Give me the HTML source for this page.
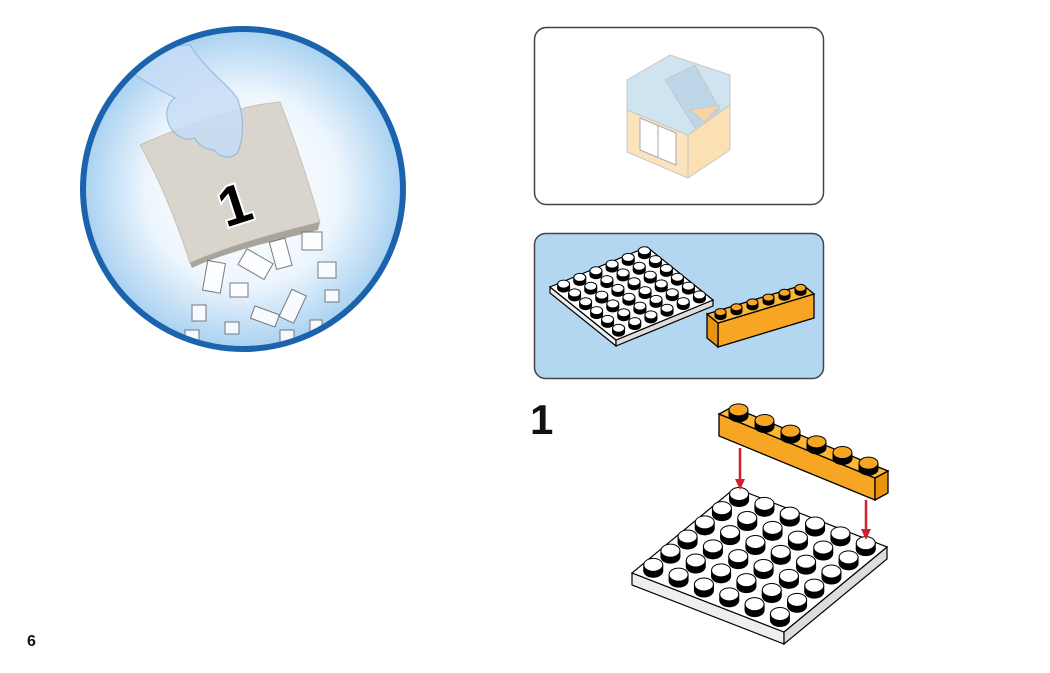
<!DOCTYPE html>
<html><head><meta charset="utf-8"><style>
html,body{margin:0;padding:0;background:#fff;width:1050px;height:673px;overflow:hidden}
svg{display:block}
</style></head><body>
<svg id="s" width="1050" height="673" viewBox="0 0 1050 673" xmlns="http://www.w3.org/2000/svg" font-family="Liberation Sans, sans-serif">
<defs>
<radialGradient id="rg" cx="0.5" cy="0.5" r="0.5">
<stop offset="0" stop-color="#ffffff"/><stop offset="0.6" stop-color="#eef6fd"/><stop offset="1" stop-color="#a9d1f1"/>
</radialGradient>
<clipPath id="cc"><circle cx="243" cy="189" r="157"/></clipPath>
</defs>
<circle cx="243" cy="189" r="160" fill="url(#rg)" stroke="#1b63ad" stroke-width="6"/>
<g clip-path="url(#cc)">
<path d="M140,145 C185,125 240,105 280,102 C295,140 308,180 320,222 C280,232 230,245 190,263 C178,225 160,180 140,145 Z" fill="#d9d5cd" stroke="#c6c1b8" stroke-width="1"/>
<path d="M190,263 C230,245 280,232 320,222 L318,230 C280,240 230,250 192,268 Z" fill="#a9a49b"/>
<path d="M128,70 C150,50 175,45 190,45 C205,70 230,85 238,100 C245,120 243,140 238,152 C232,160 220,158 214,150 C206,150 198,145 195,138 C185,142 172,135 168,122 C165,112 168,102 175,98 C160,90 145,82 128,70 Z" fill="#c7ddf6" stroke="#8eb5e2" stroke-width="1.2" opacity="0.85"/>
<text x="218" y="222" font-size="56" font-weight="bold" fill="#000" stroke="#fff" stroke-width="4" paint-order="stroke" transform="rotate(-18 240 200)">1</text>
<g fill="#fff" stroke="#666" stroke-width="1" opacity="0.85">
<rect x="205" y="262" width="18" height="30" transform="rotate(10 215 277)"/>
<rect x="240" y="255" width="30" height="18" transform="rotate(30 255 265)"/>
<rect x="273" y="240" width="16" height="28" transform="rotate(-15 280 255)"/>
<rect x="302" y="232" width="20" height="18"/>
<rect x="230" y="283" width="18" height="14"/>
<rect x="285" y="290" width="16" height="30" transform="rotate(25 290 305)"/>
<rect x="250" y="310" width="26" height="13" transform="rotate(20 264 322)"/>
<rect x="192" y="305" width="14" height="16"/>
<rect x="318" y="262" width="18" height="16"/>
<rect x="225" y="322" width="14" height="12"/>
<rect x="325" y="290" width="14" height="12"/>
<rect x="185" y="330" width="14" height="14"/>
<rect x="280" y="330" width="14" height="12"/>
<rect x="310" y="320" width="12" height="12"/>
</g>
</g>
<rect x="534.5" y="27.5" width="289" height="177" rx="12" fill="#fff" stroke="#444" stroke-width="1.5"/>
<g stroke="#c8c8c8" stroke-width="1">
<polygon points="627,110 688,135 688,178 627,152" fill="#fbe3bd"/>
<polygon points="688,135 730,105 730,150 688,178" fill="#fbe0b4"/>
<polygon points="627,110 688,135 730,105 730,75 670,55 627,80" fill="#cfe3f0"/>
<polygon points="665,80 695,65 720,110 695,128" fill="#bcd6e8"/>
<polygon points="690,110 720,105 705,122" fill="#f6d6a0"/>
<polygon points="640,118 676,133 676,165 640,150" fill="#fff" stroke="#aaa"/>
<line x1="658" y1="125" x2="658" y2="157" stroke="#aaa"/>
</g>
<rect x="534.5" y="233.5" width="289" height="145" rx="11" fill="#b3d6f1" stroke="#444" stroke-width="1.5"/>
<g id="g1"></g>
<text x="530" y="434" font-size="42" font-weight="bold" fill="#111">1</text>
<g id="g2"></g>
<text x="27" y="646" font-size="16" font-weight="bold" fill="#111">6</text>
</svg>
<script>
var NS="http://www.w3.org/2000/svg";
function el(p,t,a){var e=document.createElementNS(NS,t);for(var k in a)e.setAttribute(k,a[k]);p.appendChild(e);return e;}
function pts(a){return a.map(function(p){return p[0]+","+p[1]}).join(" ")}
function plate(g,T,L,R,th,rx,ry,h){
 var B=[L[0]+R[0]-T[0],L[1]+R[1]-T[1]];
 el(g,"polygon",{points:pts([L,B,[B[0],B[1]+th],[L[0],L[1]+th]]),fill:"#eee",stroke:"#000","stroke-width":1.2});
 el(g,"polygon",{points:pts([B,R,[R[0],R[1]+th],[B[0],B[1]+th]]),fill:"#ddd",stroke:"#000","stroke-width":1.2});
 el(g,"polygon",{points:pts([T,R,B,L]),fill:"#fff",stroke:"#000","stroke-width":1.2});
 var u=[(R[0]-T[0])/6,(R[1]-T[1])/6],v=[(L[0]-T[0])/6,(L[1]-T[1])/6];
 for(var j=0;j<6;j++)for(var i=0;i<6;i++){
  var x=T[0]+(i+.5)*u[0]+(j+.5)*v[0],y=T[1]+(i+.5)*u[1]+(j+.5)*v[1];
  stud(g,x,y,rx,ry,h,"#fff");
 }
}
function stud(g,x,y,rx,ry,h,c){
 el(g,"ellipse",{cx:x,cy:y,rx:rx,ry:ry,fill:"#000"});
 el(g,"rect",{x:x-rx,y:y-h,width:2*rx,height:h,fill:"#000"});
 el(g,"ellipse",{cx:x,cy:y-h,rx:rx-0.5,ry:ry-0.5,fill:c,stroke:"#000","stroke-width":1});
}
function brick(g,A,B,d,hgt,n,rx,ry,h,endAtA){
 var E=endAtA?A:B;
 el(g,"polygon",{points:pts([A,B,[B[0],B[1]+hgt],[A[0],A[1]+hgt]]),fill:"#f6a623",stroke:"#000","stroke-width":1.3});
 el(g,"polygon",{points:pts([E,[E[0]+d[0],E[1]+d[1]],[E[0]+d[0],E[1]+d[1]+hgt],[E[0],E[1]+hgt]]),fill:"#e89412",stroke:"#000","stroke-width":1.3});
 el(g,"polygon",{points:pts([A,B,[B[0]+d[0],B[1]+d[1]],[A[0]+d[0],A[1]+d[1]]]),fill:"#fbb735",stroke:"#000","stroke-width":1.3});
 for(var i=0;i<n;i++){var t=(i+.5)/n;
  stud(g,A[0]+(B[0]-A[0])*t+d[0]/2,A[1]+(B[1]-A[1])*t+d[1]/2,rx,ry,h,"#f6a623");}
}
var g1=document.getElementById("g1"),g2=document.getElementById("g2");
plate(g1,[647,247],[550,287],[713,300],6,6.5,4.5,4);
brick(g1,[718,323],[814,294],[-11,-9],24,6,6,4,4,true);
plate(g2,[735,488],[632,573],[887,547],12,10,7,6);
brick(g2,[719,414],[875,478],[13,-7],22,6,10,6.5,6,false);
[[740,448,490],[866,500,540]].forEach(function(a){
 el(g2,"line",{x1:a[0],y1:a[1],x2:a[0],y2:a[2]-8,stroke:"#d0222a","stroke-width":2.5});
 el(g2,"polygon",{points:(a[0]-5)+","+(a[2]-11)+" "+(a[0]+5)+","+(a[2]-11)+" "+a[0]+","+a[2],fill:"#d0222a"});
});
</script>
</body></html>
